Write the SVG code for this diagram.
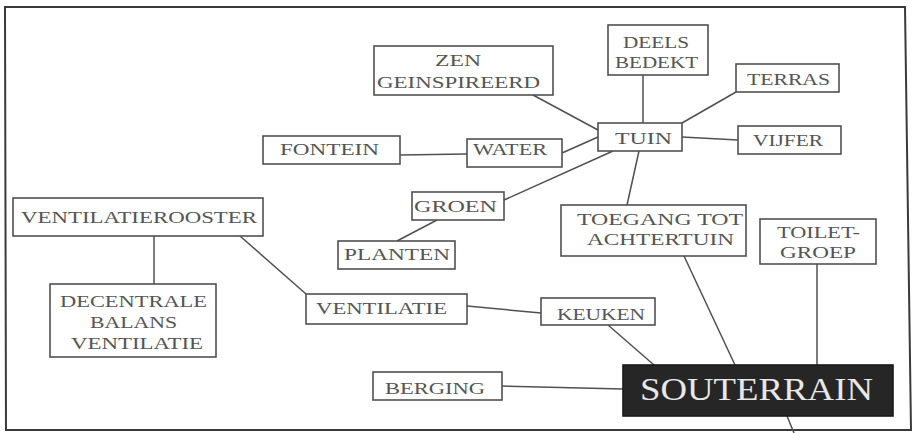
<svg xmlns="http://www.w3.org/2000/svg" width="914" height="433" viewBox="0 0 914 433">
<style>
.box{fill:#fff;stroke:#505050;stroke-width:1.6}
.dark{fill:#262626;stroke:#1a1a1a;stroke-width:1.6}
.t{font-family:"Liberation Serif","DejaVu Serif",serif;font-size:17.5px;fill:#555}
.big{font-family:"Liberation Serif","DejaVu Serif",serif;font-size:32px;fill:#e8e8e8}
.ln{stroke:#505050;stroke-width:1.5;fill:none}
.frame{fill:none;stroke:#3a3a3a;stroke-width:2}
</style>
<rect x="0" y="0" width="914" height="433" fill="#fff"/>
<path class="frame" d="M5,7 L905,7 L911,430 L6,430 Z"/>
<g id="connectors">
<line class="ln" x1="533" y1="95" x2="598" y2="130"/>
<line class="ln" x1="562" y1="153" x2="598" y2="137"/>
<line class="ln" x1="400" y1="155" x2="467" y2="154"/>
<line class="ln" x1="504" y1="200" x2="613" y2="151"/>
<line class="ln" x1="397" y1="241" x2="437" y2="220"/>
<line class="ln" x1="643" y1="75" x2="643" y2="123"/>
<line class="ln" x1="736" y1="92" x2="682" y2="123"/>
<line class="ln" x1="682" y1="137" x2="738" y2="140"/>
<line class="ln" x1="639" y1="151" x2="627" y2="205"/>
<line class="ln" x1="154" y1="236" x2="154" y2="284"/>
<line class="ln" x1="240" y1="236" x2="306" y2="294"/>
<line class="ln" x1="467" y1="306" x2="541" y2="313"/>
<line class="ln" x1="608" y1="325" x2="654" y2="365"/>
<line class="ln" x1="502" y1="386" x2="623" y2="389"/>
<line class="ln" x1="684" y1="256" x2="735" y2="365"/>
<line class="ln" x1="817" y1="264" x2="817" y2="365"/>
<line class="ln" x1="787" y1="416" x2="794" y2="433"/>
</g>
<g id="zen">
<rect class="box" x="374" y="46" width="179" height="49"/>
<text class="t" x="435" y="66" textLength="46" lengthAdjust="spacingAndGlyphs">ZEN</text>
<text class="t" x="377" y="88" textLength="163" lengthAdjust="spacingAndGlyphs">GEINSPIREERD</text>
</g>
<g id="deels">
<rect class="box" x="608" y="25" width="100" height="50"/>
<text class="t" x="623" y="48" textLength="66" lengthAdjust="spacingAndGlyphs">DEELS</text>
<text class="t" x="615" y="68" textLength="83" lengthAdjust="spacingAndGlyphs">BEDEKT</text>
</g>
<g id="terras">
<rect class="box" x="736" y="64" width="103" height="28"/>
<text class="t" x="747" y="85" textLength="83" lengthAdjust="spacingAndGlyphs">TERRAS</text>
</g>
<g id="tuin">
<rect class="box" x="598" y="123" width="84" height="28"/>
<text class="t" x="615" y="144" textLength="57" lengthAdjust="spacingAndGlyphs">TUIN</text>
</g>
<g id="vijfer">
<rect class="box" x="738" y="126" width="103" height="28"/>
<text class="t" x="753" y="146" textLength="70" lengthAdjust="spacingAndGlyphs">VIJFER</text>
</g>
<g id="fontein">
<rect class="box" x="263" y="136" width="137" height="28"/>
<text class="t" x="280" y="155" textLength="99" lengthAdjust="spacingAndGlyphs">FONTEIN</text>
</g>
<g id="water">
<rect class="box" x="467" y="139" width="95" height="28"/>
<text class="t" x="473" y="155" textLength="74" lengthAdjust="spacingAndGlyphs">WATER</text>
</g>
<g id="groen">
<rect class="box" x="412" y="192" width="92" height="28"/>
<text class="t" x="414" y="212" textLength="83" lengthAdjust="spacingAndGlyphs">GROEN</text>
</g>
<g id="planten">
<rect class="box" x="338" y="241" width="117" height="28"/>
<text class="t" x="344" y="260" textLength="106" lengthAdjust="spacingAndGlyphs">PLANTEN</text>
</g>
<g id="ventilatierooster">
<rect class="box" x="13" y="198" width="250" height="38"/>
<text class="t" x="21" y="223" textLength="236" lengthAdjust="spacingAndGlyphs">VENTILATIEROOSTER</text>
</g>
<g id="decentrale">
<rect class="box" x="50" y="284" width="166" height="73"/>
<text class="t" x="60" y="307" textLength="147" lengthAdjust="spacingAndGlyphs">DECENTRALE</text>
<text class="t" x="90" y="328" textLength="87" lengthAdjust="spacingAndGlyphs">BALANS</text>
<text class="t" x="71" y="349" textLength="132" lengthAdjust="spacingAndGlyphs">VENTILATIE</text>
</g>
<g id="ventilatie">
<rect class="box" x="306" y="294" width="161" height="30"/>
<text class="t" x="316" y="314" textLength="131" lengthAdjust="spacingAndGlyphs">VENTILATIE</text>
</g>
<g id="keuken">
<rect class="box" x="541" y="298" width="114" height="27"/>
<text class="t" x="557" y="320" textLength="88" lengthAdjust="spacingAndGlyphs">KEUKEN</text>
</g>
<g id="toegang">
<rect class="box" x="561" y="205" width="185" height="51"/>
<text class="t" x="577" y="225" textLength="166" lengthAdjust="spacingAndGlyphs">TOEGANG TOT</text>
<text class="t" x="587" y="245" textLength="147" lengthAdjust="spacingAndGlyphs">ACHTERTUIN</text>
</g>
<g id="toilet">
<rect class="box" x="760" y="219" width="116" height="45"/>
<text class="t" x="777" y="238" textLength="83" lengthAdjust="spacingAndGlyphs">TOILET-</text>
<text class="t" x="780" y="258" textLength="76" lengthAdjust="spacingAndGlyphs">GROEP</text>
</g>
<g id="berging">
<rect class="box" x="373" y="372" width="129" height="28"/>
<text class="t" x="385" y="394" textLength="100" lengthAdjust="spacingAndGlyphs">BERGING</text>
</g>
<g id="souterrain">
<rect class="dark" x="623" y="365" width="270" height="51"/>
<text class="big" x="640" y="400" textLength="233" lengthAdjust="spacingAndGlyphs">SOUTERRAIN</text>
</g>
</svg>
